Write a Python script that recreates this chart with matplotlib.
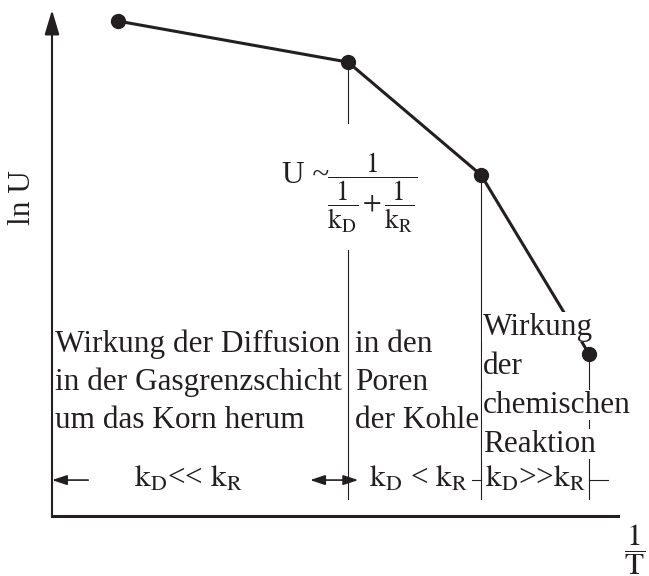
import matplotlib
matplotlib.use("Agg")
import matplotlib.pyplot as plt

plt.rcParams['font.family'] = ['Liberation Serif', 'DejaVu Serif']
plt.rcParams['mathtext.fontset'] = 'stix'
plt.rcParams['mathtext.default'] = 'rm'

INK = '#231f20'
FS = 22.5

# ── Daten (schematisch, 1/T und ln U in willkürlichen Einheiten) ──
inv_T = [1.17, 5.23, 7.58, 9.49]
ln_U = [9.78, 8.97, 6.74, 3.20]

# Bereichsgrenzen (Knickpunkte 2 und 3)
grenze_x = [5.23, 7.58]

texte_links = ["Wirkung der Diffusion", "in der Gasgrenzschicht", "um das Korn herum"]
texte_mitte = ["in den", "Poren", "der Kohle"]
texte_rechts = ["Wirkung", "der", "chemischen", "Reaktion"]
labels_unten = [r"$\mathrm{k_D}$<< $\mathrm{k_R}$",
                r"$\mathrm{k_D}$ < $\mathrm{k_R}$",
                r"$\mathrm{k_D}$>>$\mathrm{k_R}$"]
labels_unten_x = [2.42, 6.47, 8.55]

fig = plt.figure(figsize=(6.49, 5.76), dpi=100)
ax = fig.add_axes([52/649, 60/576, 566/649, 506/576])
ax.set_xlim(0, 10)
ax.set_ylim(0, 10)
ax.set_xticks([])
ax.set_yticks([])
for s in ['top', 'right']:
    ax.spines[s].set_visible(False)
ax.spines['left'].set_linewidth(1.5)
ax.spines['left'].set_color(INK)
ax.spines['left'].set_bounds(0, 9.6)
ax.spines['bottom'].set_linewidth(2.2)
ax.spines['bottom'].set_color(INK)
ax.annotate('', xy=(0, 10), xytext=(0, 9.5), annotation_clip=False,
            arrowprops=dict(arrowstyle='-|>,head_length=1.5,head_width=0.45',
                            color=INK, lw=1.5, shrinkA=0, shrinkB=0))

# Kurve und Punkte
ax.plot(inv_T, ln_U, color=INK, lw=2.2, zorder=2, clip_on=False)
ax.plot(inv_T, ln_U, 'o', color=INK, ms=10, zorder=5, clip_on=False)

# Hilfslinien senkrecht
y_unten = 0.34
ax.plot([inv_T[1], inv_T[1]], [ln_U[1], 7.77], color=INK, lw=0.8, zorder=1)
ax.plot([inv_T[1], inv_T[1]], [5.26, y_unten], color=INK, lw=0.8, zorder=1)
ax.plot([inv_T[2], inv_T[2]], [ln_U[2], y_unten], color=INK, lw=0.8, zorder=1)
ax.plot([inv_T[3], inv_T[3]], [ln_U[3], y_unten], color=INK, lw=0.8, zorder=1)

# Pfeile unten
y_pfeil = 0.71
pf = dict(arrowstyle='-|>,head_length=0.9,head_width=0.3', color=INK, lw=1.2,
          shrinkA=0, shrinkB=0)
ax.annotate('', xy=(0, y_pfeil), xytext=(0.64, y_pfeil), arrowprops=pf)
ax.annotate('', xy=(5.41, y_pfeil), xytext=(4.56, y_pfeil),
            arrowprops=dict(pf, arrowstyle='<|-|>,head_length=0.9,head_width=0.3'))
ax.plot([7.42, grenze_x[1]], [y_pfeil, y_pfeil], color=INK, lw=0.8)
ax.plot([inv_T[3], 9.82], [y_pfeil, y_pfeil], color=INK, lw=0.8, clip_on=False)

box = dict(facecolor='white', edgecolor='none', pad=0.5)
for i, t in enumerate(texte_links):
    ax.text(0.05, 3.24 - i * 0.75, t, fontsize=FS, color=INK, va='baseline', zorder=3)
for i, t in enumerate(texte_mitte):
    ax.text(5.35, 3.24 - i * 0.75, t, fontsize=FS, color=INK, va='baseline', zorder=3)
for i, t in enumerate(texte_rechts):
    ax.text(7.61, 3.58 - i * 0.77, t, fontsize=FS, color=INK, va='baseline',
            zorder=3, bbox=box)
for t, x in zip(labels_unten, labels_unten_x):
    ax.text(x, 0.573, t, fontsize=FS, color=INK, ha='center', va='baseline',
            zorder=3)

# Formel U ~ 1/(1/kD + 1/kR)
ax.text(4.06, 6.58, "U ~", fontsize=FS, color=INK, ha='left', va='baseline')
ax.text(4.86, 6.40,
        r"$\dfrac{1}{\dfrac{1}{\mathrm{k_D}}\,{+}\,\dfrac{1}{\mathrm{k_R}}}$",
        fontsize=19.5, color=INK, ha='left', va='center')

ax.text(-0.53, 6.30, "ln U", fontsize=FS, color=INK, rotation=90,
        ha='center', va='center', clip_on=False)
ax.text(10.30, -0.67, r"$\dfrac{1}{\mathrm{T}}$", fontsize=FS, color=INK,
        ha='center', va='center', clip_on=False)

fig.savefig("out.png", dpi=100)
